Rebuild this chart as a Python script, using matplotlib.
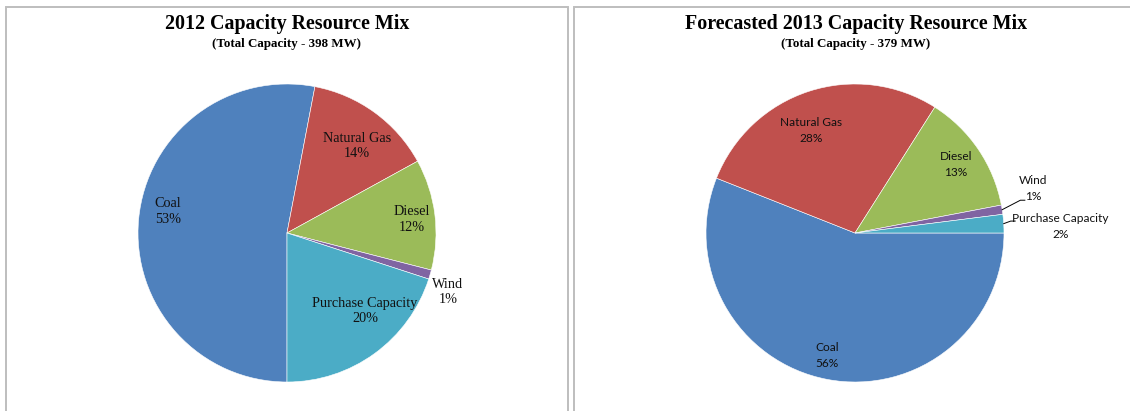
import matplotlib.pyplot as plt
import numpy as np
from matplotlib.lines import Line2D
from matplotlib.patches import Rectangle

# capacity shares (%) per resource
resources = ['Coal', 'Natural Gas', 'Diesel', 'Wind', 'Purchase Capacity']
share_2012 = [53, 14, 12, 1, 20]
share_2013 = [56, 28, 13, 1, 2]
total_2012 = 398
total_2013 = 379

colors = ['#4F81BD', '#C0504D', '#9BBB59', '#8064A2', '#4BACC6']

W, H = 1130, 411
R = 149  # pie radius in px
fig = plt.figure(figsize=(W / 100, H / 100), dpi=100)

# panel frames
for x0, x1 in [(6, 568), (574, 1140)]:
    fig.add_artist(Rectangle((x0 / W, -0.2), (x1 - x0) / W, (H - 7) / H + 0.2,
                             transform=fig.transFigure, fill=False,
                             edgecolor='#BEBEBE', linewidth=1.4))


def pie_axes(cx, cy):
    aw, ah = 540, 340
    ax = fig.add_axes([(cx - aw / 2) / W, (H - cy - ah / 2) / H, aw / W, ah / H])
    ax.set_axis_off()
    return ax, aw / 2 / R, ah / 2 / R


def draw_pie(ax, xl, yl, values, start, label_pos, font, align, size, spacing):
    wedges, _ = ax.pie(values, colors=colors, startangle=start, counterclock=False,
                       wedgeprops=dict(edgecolor='white', linewidth=0.4))
    ax.set_xlim(-xl, xl)
    ax.set_ylim(-yl, yl)
    ax.set_aspect('equal', adjustable='datalim')
    labels = []
    for w, name, v, (r, dth), ha in zip(wedges, resources, values, label_pos, align):
        th = np.deg2rad((w.theta1 + w.theta2) / 2 + dth)
        labels.append(ax.text(r * np.cos(th), r * np.sin(th), f'{name}\n{v}%',
                              ha=ha, va='center', fontsize=size, family=font,
                              linespacing=spacing, color='#111111', multialignment=ha))
    return wedges, labels


# 2012
ax1, xl, yl = pie_axes(287, 233)
_, lab1 = draw_pie(ax1, xl, yl, share_2012, -90,
                   [(0.80, -5), (0.75, -3), (0.84, -1), (1.15, -4), (0.74, 9)],
                   'Liberation Serif', ['left', 'center', 'center', 'center', 'center'],
                   10.3, 1.25)
lab1[0].set_x(lab1[0].get_position()[0] - 0.1)

# 2013
ax2, xl, yl = pie_axes(855, 233)
w2, _ = draw_pie(ax2, xl, yl, share_2013, 0,
                 [(0.84, -2), (0.75, 5), (0.82, 0), (1.23, 5), (1.38, -1.8)],
                 'Lato', ['center'] * 5, 8.6, 1.55)
# leader lines for the two thin slices
for w, (lx, ly) in [(w2[3], (1.11, 0.22)), (w2[4], (1.045, 0.08))]:
    th = np.deg2rad((w.theta1 + w.theta2) / 2)
    ex, ey = np.cos(th), np.sin(th)
    ax2.add_line(Line2D([ex, lx, lx + 0.03], [ey, ly, ly], color='black', lw=0.7))

fig.text(287 / W, 1 - 24 / H, '2012 Capacity Resource Mix', ha='center', va='center',
         family='Liberation Serif', weight='bold', fontsize=14.4)
fig.text(287 / W, 1 - 44 / H, f'(Total Capacity - {total_2012} MW)', ha='center',
         va='center', family='Liberation Serif', weight='bold', fontsize=9.4)
fig.text(856 / W, 1 - 24 / H, 'Forecasted 2013 Capacity Resource Mix', ha='center',
         va='center', family='Liberation Serif', weight='bold', fontsize=14.4)
fig.text(856 / W, 1 - 44 / H, f'(Total Capacity - {total_2013} MW)', ha='center',
         va='center', family='Liberation Serif', weight='bold', fontsize=9.4)

fig.savefig('out.png', dpi=100)
